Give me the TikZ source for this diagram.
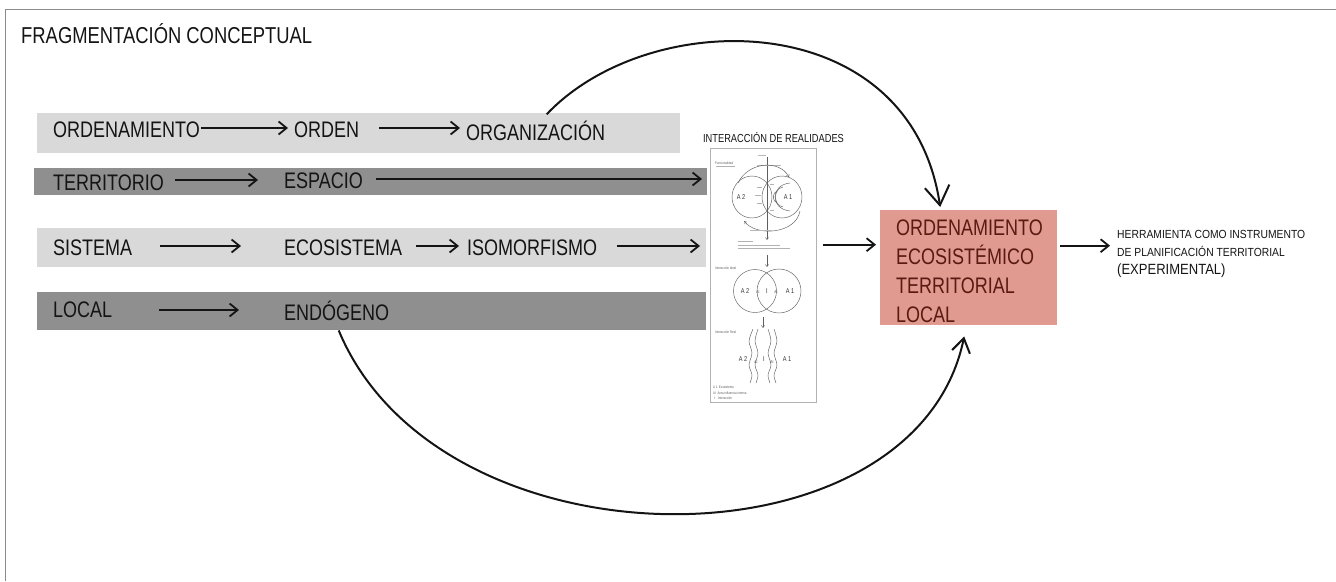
\documentclass[tikz,border=0pt]{standalone}
\usepackage{fontspec}
\setmainfont{Liberation Sans}[FakeStretch=0.80]
\newfontfamily\smallf{Liberation Sans}[FakeStretch=0.88]
\usetikzlibrary{arrows.meta,calc}
\definecolor{barlight}{HTML}{D9D9D9}
\definecolor{bardark}{HTML}{8F8F8F}
\definecolor{boxfill}{HTML}{E09A8F}
\definecolor{boxtext}{HTML}{5A1A12}
\definecolor{framec}{HTML}{8A8A8A}
\definecolor{insetgray}{HTML}{5E5E5E}
\definecolor{ink}{HTML}{141414}
\begin{document}
\begin{tikzpicture}[x=1pt,y=-1pt,
  bigtxt/.style={font=\fontsize{22.5}{27}\selectfont, text=ink, inner sep=0pt, anchor=base west},
  barbox/.style={anchor=north west, inner sep=0pt, outer sep=0pt, draw=none},
  arr/.style={line width=1.8pt, draw=ink, -{Straight Barb[length=8pt,width=13pt]}},
  curvearr/.style={line width=2pt, draw=ink, -{Straight Barb[length=#1,width=#1*1.3]}},
  tinyline/.style={line width=0.45pt, draw=insetgray},
  tinyarr/.style={tinyline, -{Straight Barb[length=2.2pt,width=3.2pt]}},
  tinytxt/.style={font=\fontsize{3.6}{4}\selectfont, inner sep=0pt, text=insetgray, anchor=west},
  blur/.style={line width=0.9pt, draw=gray!55},
  lbl/.style={font=\fontsize{7}{8}\selectfont, inner sep=0pt, text=black!80},
  milbl/.style={font=\fontsize{4}{5}\selectfont, inner sep=0pt, text=black!75}
]
\useasboundingbox (0,0) rectangle (1336,581);
% frame
\draw[framec, line width=1.3pt] (5.5,581) -- (5.5,9.5) -- (1336,9.5);
\node[font=\fontsize{23}{27}\selectfont, inner sep=0pt, anchor=base west, text=ink] (title) at (21,43) {FRAGMENTACIÓN CONCEPTUAL};

% bars
\node[barbox, fill=barlight, minimum width=643pt, minimum height=40pt] (bar1) at (37,113) {};
\node[barbox, fill=bardark, minimum width=673pt, minimum height=27pt] (bar2) at (34,168) {};
\node[barbox, fill=barlight, minimum width=669pt, minimum height=39pt] (bar3) at (37,228) {};
\node[barbox, fill=bardark, minimum width=669pt, minimum height=38pt] (bar4) at (37,292) {};

% bar texts
\node[bigtxt] (ordenamiento) at (53,137) {ORDENAMIENTO};
\node[bigtxt] (orden) at (294,137) {ORDEN};
\node[bigtxt] (organizacion) at (466,140) {ORGANIZACIÓN};
\node[bigtxt] (territorio) at (53,190) {TERRITORIO};
\node[bigtxt] (espacio) at (284,188) {ESPACIO};
\node[bigtxt] (sistema) at (53,255) {SISTEMA};
\node[bigtxt] (ecosistema) at (284,255) {ECOSISTEMA};
\node[bigtxt] (isomorfismo) at (467,255) {ISOMORFISMO};
\node[bigtxt] (local) at (53,317) {LOCAL};
\node[bigtxt] (endogeno) at (284,320) {ENDÓGENO};

% inset
\node[draw=gray!60, line width=0.6pt, fill=white, anchor=north west, minimum width=106pt, minimum height=254pt, inner sep=0pt] (inset) at (710,148) {};
\node[font=\fontsize{11.6}{13}\selectfont, inner sep=0pt, anchor=base, text=ink] (insettitle) at (773.5,142) {INTERACCIÓN DE REALIDADES};

% result box
\node[fill=boxfill, anchor=north west, minimum width=177pt, minimum height=115pt, inner sep=0pt] (oet) at (880,210) {};
\node[anchor=north west, inner sep=0pt, align=left, text=boxtext, font=\fontsize{22.5}{29}\selectfont] (oettext) at (896,220) {ORDENAMIENTO\\ECOSISTÉMICO\\TERRITORIAL\\LOCAL};

\node[anchor=north west, inner sep=0pt, align=left, text=ink, font=\smallf\fontsize{11.75}{18}\selectfont] (herr) at (1117,230.5) {HERRAMIENTA COMO INSTRUMENTO\\DE PLANIFICACIÓN TERRITORIAL\\{\fontsize{14.8}{18}\selectfont (EXPERIMENTAL)}};

% bar arrows
\draw[arr] ($(ordenamiento.base east)+(1,-9)$) -- ($(orden.base west)+(-6,-9)$);
\draw[arr] ($(orden.base east)+(20,-9)$) -- ($(organizacion.base west)+(-6,-12)$);
\draw[arr] ($(territorio.base east)+(11,-10)$) -- ($(espacio.base west)+(-26,-8)$);
\coordinate (r2s) at ($(espacio.base east)+(13,-9)$);
\draw[arr, shorten >=8pt] (r2s) -- (r2s -| inset.west);
\draw[arr] ($(sistema.base east)+(28,-9)$) -- ($(ecosistema.base west)+(-43,-9)$);
\draw[arr] ($(ecosistema.base east)+(14,-9)$) -- ($(isomorfismo.base west)+(-8,-9)$);
\coordinate (r3s) at ($(isomorfismo.base east)+(20,-9)$);
\draw[arr, shorten >=10pt] (r3s) -- (r3s -| inset.west);
\draw[arr] ($(local.base east)+(47,-7)$) -- ($(endogeno.base west)+(-45,-10)$);

% inset -> box -> text
\coordinate (oetin) at ($(oet.west)+(-4,-23)$);
\draw[arr, shorten <=6pt] (inset.east |- oetin) -- (oetin);
\coordinate (oetout) at ($(oet.east)+(3,-22)$);
\draw[arr, shorten >=7pt] (oetout) -- (oetout -| herr.west);

% big curves
\draw[curvearr=19pt] ($(organizacion.north)+(11,-6)$) .. controls (650,5) and (910,5) .. ($(oet.north)+(-28.5,-3)$);
\draw[curvearr=14pt] ($(endogeno.south)+(2,10)$) .. controls (440,574) and (915,574) .. ($(oet.south)+(-4.5,11)$);

% ---- inset drawing ----
% panel 1
\node[tinytxt] (funcionalidad) at (715,163) {Funcionalidad};
\draw[line width=0.5pt, gray!60] (716,166.5) -- (735,166.5);
\draw[blur] (758,155.5) -- (766,155.5);
\draw[tinyarr] (767,157) -- (767,240);
\draw[blur] (757,165) -- (781,165);
\draw[tinyarr] (738,183) .. controls (748,162) and (779,159) .. (789,177);
\draw[tinyline] (752,197) ellipse [x radius=20pt, y radius=21pt];
\draw[tinyline] (782,197) ellipse [x radius=20pt, y radius=21pt];
\draw[tinyarr] (800,211) .. controls (796,234) and (756,237) .. (744,221);
\draw[tinyline] (783,187) .. controls (773,189) and (773,205) .. (783,207);
\draw[tinyline] (790,183) .. controls (770,185) and (770,209) .. (790,211);
\draw[tinyline] (777,191) .. controls (772,193) and (772,201) .. (777,203);
\draw[line width=0.5pt, gray!60] (757,187) -- (762,187) (755,195) -- (761,195) (757,203) -- (762,203) (770,184) -- (774,184) (770,210) -- (774,210);
\node[lbl] (a2top) at (741,197) {A 2};
\node[lbl] (a1top) at (788,197) {A 1};
\draw[blur] (750,230) -- (772,230);
\draw[line width=0.6pt, gray!60] (738,241.5) -- (753,241.5) (738,245) -- (780,245) (738,248) -- (790,248);
\draw[tinyarr] (767,255) -- (767,267);
\node[tinytxt] (ideal) at (715,268) {Interacción ideal};
% panel 2
\draw[tinyline] (755,291) circle [radius=21.5pt];
\draw[tinyline] (779,291) circle [radius=22pt];
\node[lbl] (a2mid) at (745,291) {A 2};
\node[milbl] (aimidl) at (758,292) {AI};
\node[lbl] (imid) at (767,291) {I};
\node[milbl] (aimidr) at (776,292) {AI};
\node[lbl] (a1mid) at (790,291) {A 1};
\draw[tinyarr] (763,317) -- (763,328);
\node[tinytxt] (real) at (715,332) {Interacción Real};
% panel 3
\draw[tinyline] plot[smooth] coordinates {(753,329) (749,341) (752,353) (749,365) (752,375) (750,383)};
\draw[tinyline] plot[smooth] coordinates {(758,329) (755,341) (758,353) (755,365) (758,375) (756,383)};
\draw[tinyline] plot[smooth] coordinates {(768,329) (771,341) (768,353) (771,365) (768,375) (770,383)};
\draw[tinyline] plot[smooth] coordinates {(774,329) (777,341) (774,353) (777,365) (774,375) (776,383)};
\node[lbl] (a2low) at (743,359) {A 2};
\node[milbl] (ailowl) at (756,362) {AI};
\node[lbl] (ilow) at (764,359) {I};
\node[milbl] (ailowr) at (772,362) {AI};
\node[lbl] (a1low) at (787,359) {A 1};
\node[tinytxt] (leg1) at (713,387) {A 1 \,Ecosistema};
\node[tinytxt] (leg2) at (713,393) {AI \;Área influencia interna};
\node[tinytxt] (leg3) at (713,398) {\,\,I \;\;Interacción};
\end{tikzpicture}
\end{document}
